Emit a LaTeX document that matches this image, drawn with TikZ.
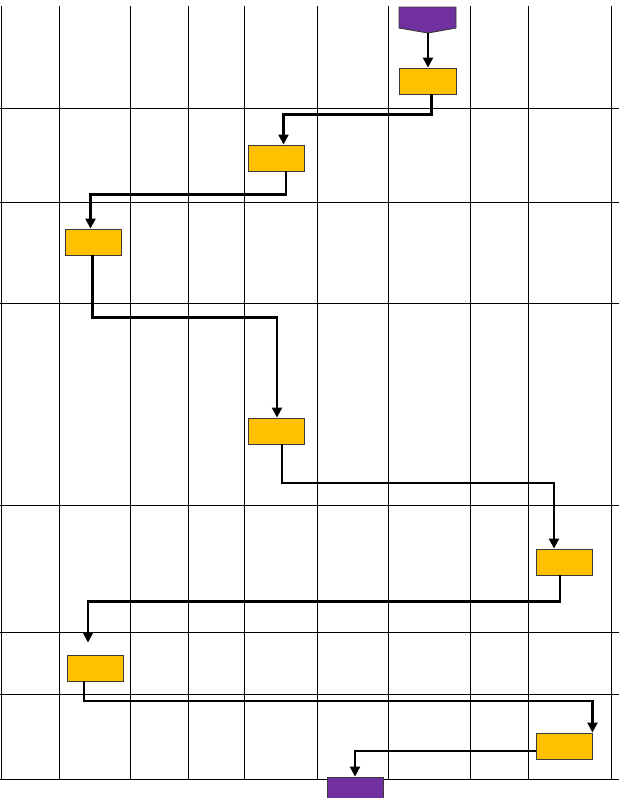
\documentclass[tikz,border=0pt]{standalone}
\usetikzlibrary{arrows.meta,calc}
\definecolor{boxyellow}{HTML}{FFC000}
\definecolor{boxpurple}{HTML}{7030A0}
\definecolor{boxedge}{HTML}{3A3A3A}
\tikzset{
  gridline/.style={line width=1pt, black},
  stepbox/.style={rectangle, draw=boxedge, line width=0.9pt, fill=boxyellow, minimum width=56pt, minimum height=26pt, inner sep=0pt},
  endbox/.style={rectangle, draw=boxedge, line width=0.9pt, fill=boxpurple, minimum width=56pt, minimum height=30pt, inner sep=0pt},
  conn/.style={line width=2.2pt, black, -{Triangle[width=10pt,length=10pt]}},
}
\begin{document}
\begin{tikzpicture}[x=1pt,y=-1pt]
\useasboundingbox (0,0) rectangle (619,798);
\clip (0,0) rectangle (619,798);
\fill[white] (0,0) rectangle (619,798);
% grid
\foreach \gx in {1,59,130,188,244,317,388,470.5,528,611}
  \draw[gridline] (\gx,6) -- (\gx,779);
\foreach \gy in {108,202,303,505,632,694,779}
  \draw[gridline] (0,\gy) -- (619,\gy);
% start shape
\fill[boxpurple, draw=boxedge, line width=0.9pt] (399,7) -- (456,7) -- (456,28) -- (428,33) -- (399,28) -- cycle;
\coordinate (start) at (428,33);
% steps
\node[stepbox, minimum width=57pt] (b1) at (427.5,81) {};
\node[stepbox] (b2) at (276,158) {};
\node[stepbox] (b3) at (93.5,242) {};
\node[stepbox] (b4) at (276,431) {};
\node[stepbox] (b5) at (564,562) {};
\node[stepbox] (b6) at (95,668) {};
\node[stepbox] (b7) at (564,746) {};
\node[endbox] (end) at (355,792) {};
% connectors
\draw[conn] (start) -- (start |- b1.north);
\draw[conn] ([xshift=4pt]b1.south) -- ++(0,20) -| ([xshift=7.5pt]b2.north);
\draw[conn] ([xshift=10pt]b2.south) -- ++(0,23) -| ([xshift=-3pt]b3.north);
\draw[conn] ([xshift=-1pt]b3.south) -- ++(0,62) -| ([xshift=1pt]b4.north);
\draw[conn] ([xshift=6pt]b4.south) -- ++(0,38.5) -| ([xshift=-10pt]b5.north);
\draw[conn] ([xshift=-4pt]b5.south) -- ++(0,26) -| ([xshift=-7pt,yshift=12pt]b6.north);
\draw[conn] ([xshift=-11pt]b6.south) -- ++(0,19.5) -| (b7.north east);
\draw[conn] ([yshift=-5pt]b7.west) -| (end.north);
\end{tikzpicture}
\end{document}
